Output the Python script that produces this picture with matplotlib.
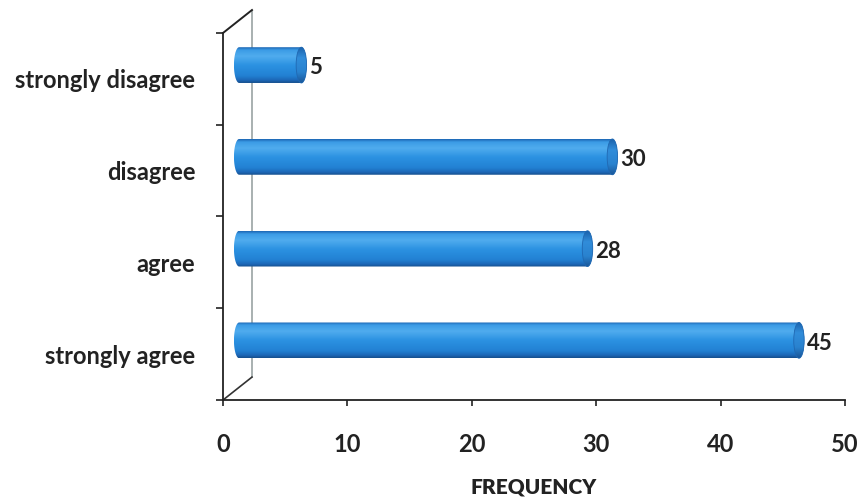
import numpy as np
import matplotlib.pyplot as plt
from matplotlib.path import Path
from matplotlib.patches import PathPatch, Ellipse
from matplotlib.colors import LinearSegmentedColormap

# responses, bottom to top
categories = ['strongly agree', 'agree', 'disagree', 'strongly disagree']
frequency = [45, 28, 30, 5]
x_ticks = [0, 10, 20, 30, 40, 50]

plt.rcParams['font.family'] = ['Lato', 'DejaVu Sans']
plt.rcParams['font.weight'] = 'bold'
TEXT = '#222222'

# pseudo-3D geometry, data units
DEPTH_X, DEPTH_Y = 2.33, 0.25
BAR_SHIFT, BAR_LIFT = 1.3, 0.15
BAR_H, CAP_W = 0.39, 0.84

body_cmap = LinearSegmentedColormap.from_list('body', [
    (0.0, '#1d66b4'), (0.08, '#3b9ce6'), (0.25, '#50acee'),
    (0.5, '#2c92e2'), (0.8, '#2281d3'), (0.93, '#1c66b5'), (1.0, '#164f8c')])
cap_cmap = LinearSegmentedColormap.from_list('cap', [
    (0.0, '#1b62ac'), (0.3, '#318dda'), (0.7, '#2982cf'), (1.0, '#1a5698')])


def cylinder(ax, y, value):
    x0 = BAR_SHIFT
    x1 = BAR_SHIFT + value
    half = BAR_H / 2
    t = np.linspace(-np.pi / 2, np.pi / 2, 40)
    right = np.column_stack([x1 + CAP_W / 2 * np.cos(t), y + half * np.sin(t)])
    left = np.column_stack([x0 - CAP_W / 2 * np.cos(t), y - half * np.sin(t)])
    outline = PathPatch(Path(np.vstack([right, left, right[:1]]), closed=True),
                        facecolor='none', edgecolor='none')
    ax.add_patch(outline)
    grad = np.linspace(0, 1, 120).reshape(-1, 1)
    body = ax.imshow(grad, cmap=body_cmap, aspect='auto', interpolation='bilinear',
                     extent=(x0 - CAP_W / 2, x1 + CAP_W / 2, y - half, y + half), zorder=2)
    body.set_clip_path(outline)

    end = Ellipse((x1, y), CAP_W, BAR_H, facecolor='none', edgecolor='none')
    ax.add_patch(end)
    face = ax.imshow(grad, cmap=cap_cmap, aspect='auto', interpolation='bilinear',
                     extent=(x1 - CAP_W / 2, x1 + CAP_W / 2, y - half, y + half), zorder=3)
    face.set_clip_path(end)
    ax.add_patch(Ellipse((x1, y), CAP_W, BAR_H, facecolor='none',
                         edgecolor='#2068b2', lw=0.6, zorder=4))
    ax.text(x1 + CAP_W / 2 + 0.2, y - 0.03, str(value), ha='left', va='center',
            fontsize=16, color=TEXT, zorder=5)


fig = plt.figure(figsize=(8.59, 5.04), dpi=100)
ax = fig.add_axes([0.2596, 0.2063, 0.7241, 0.7738])

for i, v in enumerate(frequency):
    cylinder(ax, i + BAR_LIFT, v)

# back wall edge and its links to the front axes
ax.plot([DEPTH_X, DEPTH_X], [-0.5 + DEPTH_Y, 3.5 + DEPTH_Y], color='#9aa3a3', lw=1.2, zorder=1)
ax.plot([0, DEPTH_X], [3.5, 3.5 + DEPTH_Y], color='#222222', lw=1.4, clip_on=False)
ax.plot([0, DEPTH_X], [-0.5, -0.5 + DEPTH_Y], color='#333333', lw=1.2, zorder=1)

ax.set_xlim(0, 50)
ax.set_ylim(-0.5, 3.5 + DEPTH_Y)

for side in ['top', 'right']:
    ax.spines[side].set_visible(False)
ax.spines['left'].set_bounds(-0.5, 3.5)
for side in ['left', 'bottom']:
    ax.spines[side].set_color('#222222')
    ax.spines[side].set_linewidth(1.3)

ax.set_xticks(x_ticks)
ax.tick_params(axis='x', direction='out', length=4.5, width=1.2, color='#222222',
               labelsize=17, labelcolor=TEXT, pad=19)

ax.set_yticks([-0.5, 0.5, 1.5, 2.5, 3.5])
ax.set_yticklabels([])
ax.tick_params(axis='y', which='major', direction='out', length=5, width=1.2, color='#222222')
ax.set_yticks(range(len(categories)), minor=True)
ax.set_yticklabels(categories, minor=True)
ax.tick_params(axis='y', which='minor', length=0, labelsize=17, labelcolor=TEXT, pad=20)

ax.set_xlabel('FREQUENCY', fontsize=15, fontweight='heavy', color=TEXT, labelpad=16)

fig.savefig('out.png', dpi=100)
